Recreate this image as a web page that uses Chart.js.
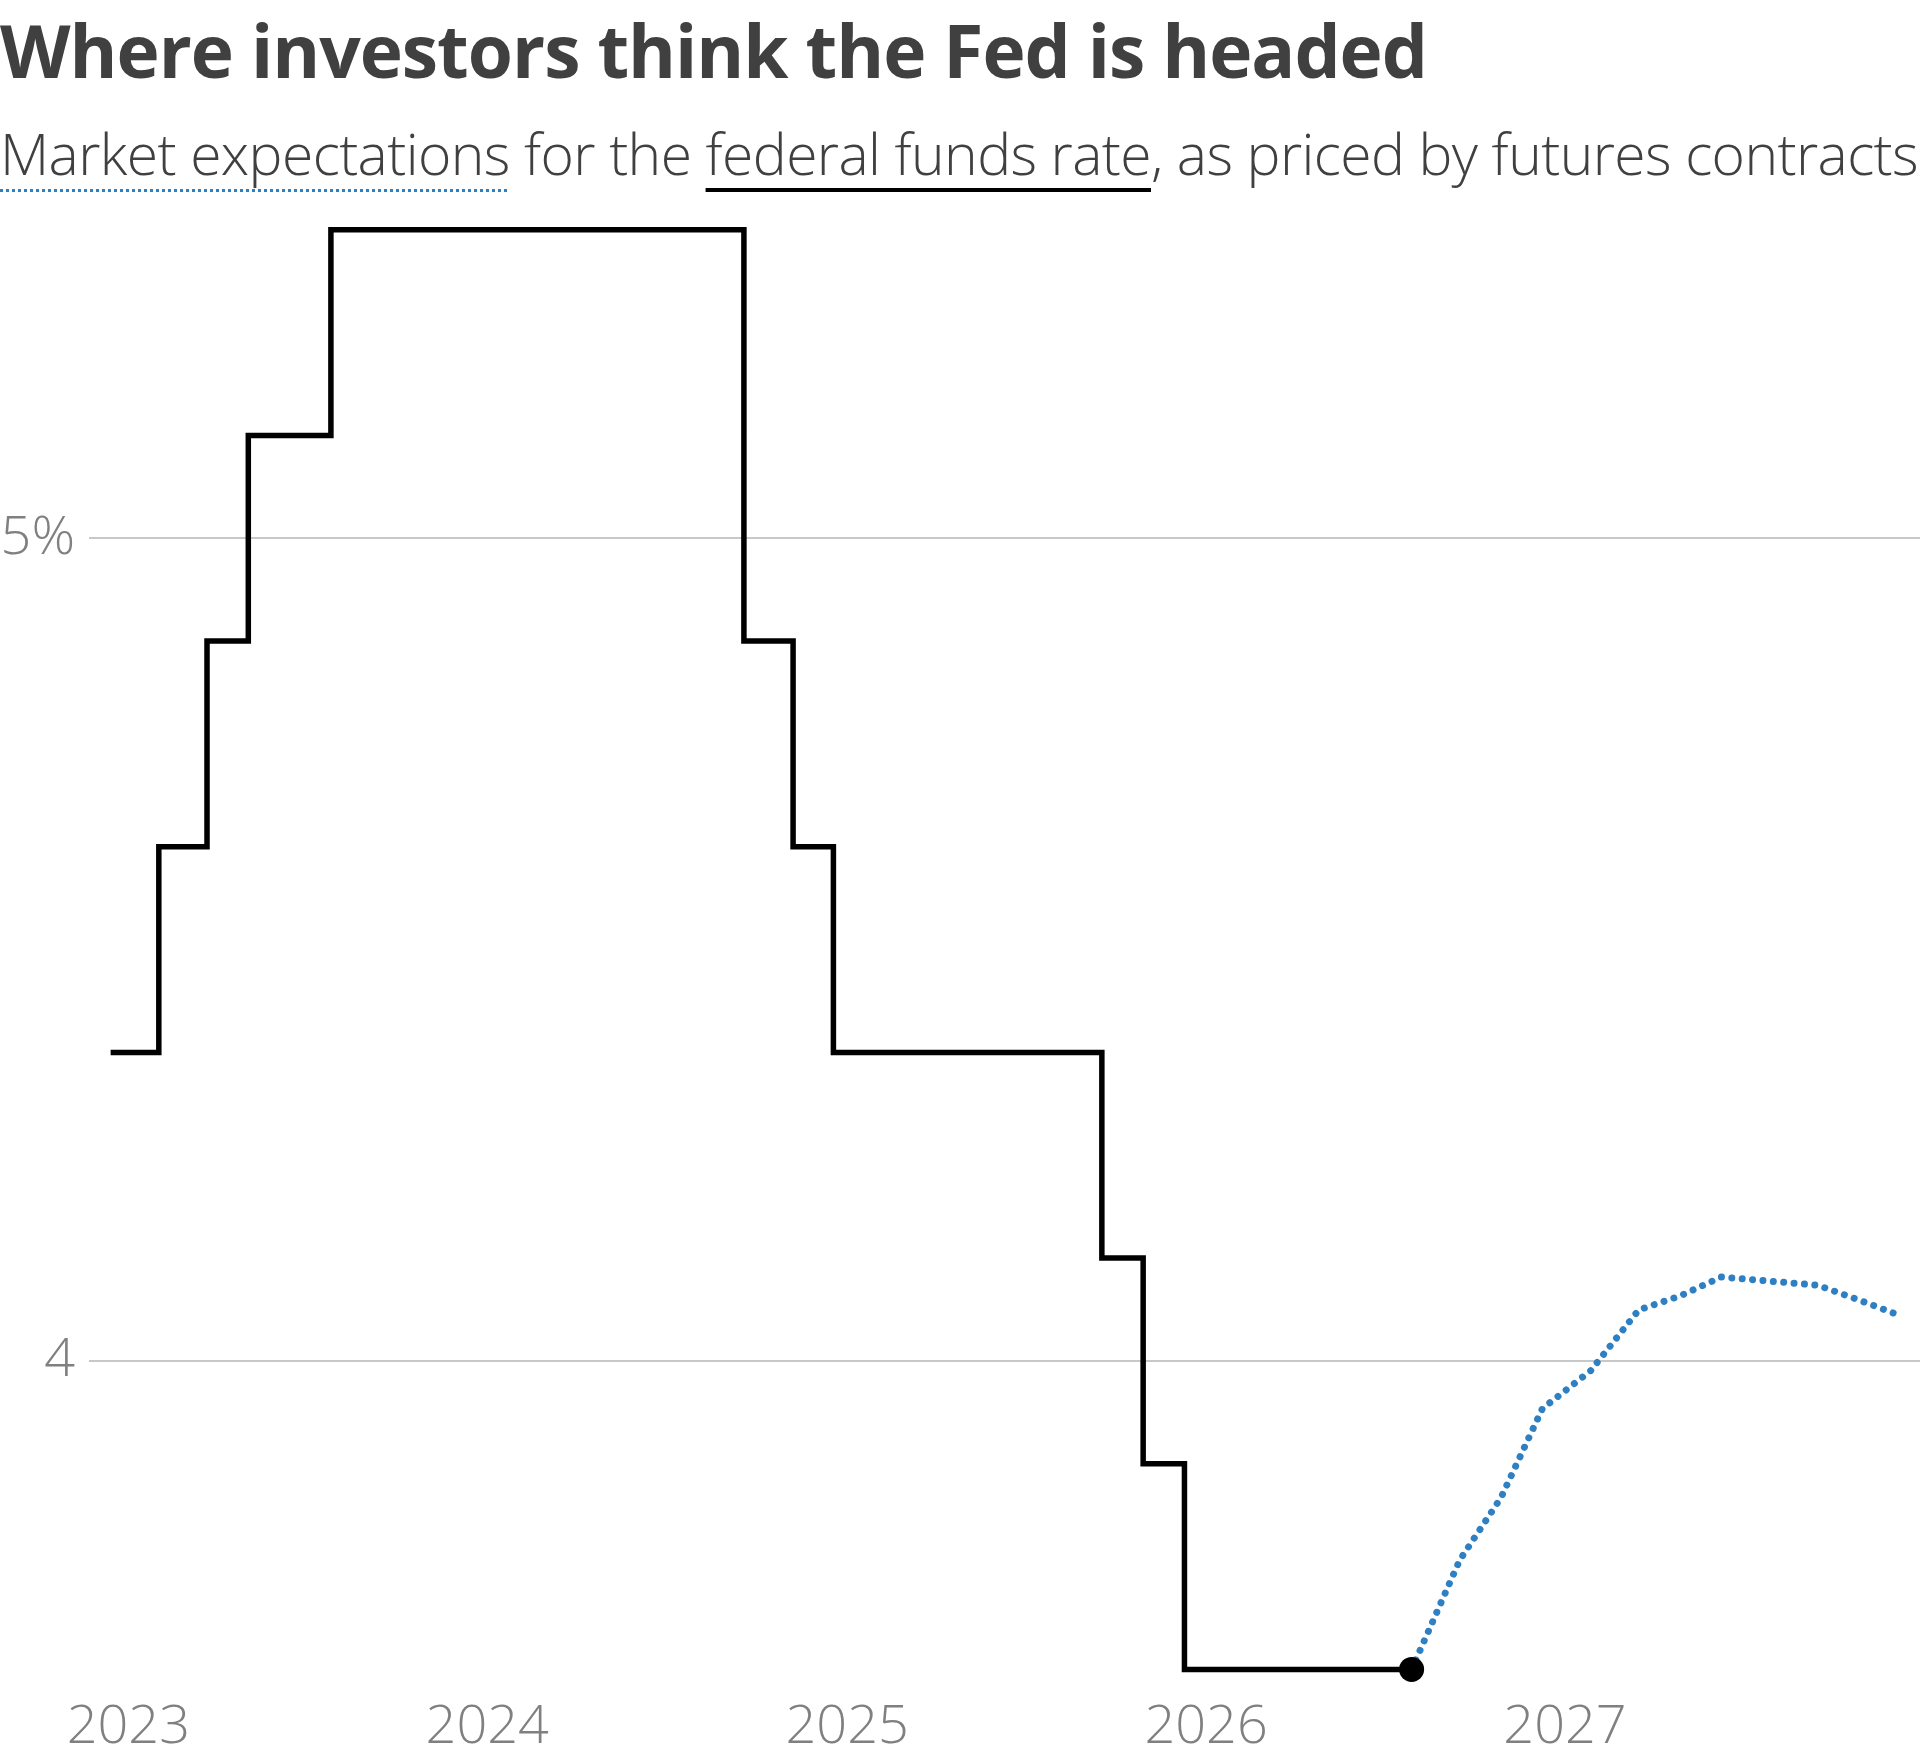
<!DOCTYPE html>
<html>
<head>
<meta charset="utf-8">
<script src="https://cdn.jsdelivr.net/npm/chart.js@4.4.1/dist/chart.umd.min.js"></script>
<style>
  html, body { margin: 0; padding: 0; background: #fff; }
  body { width: 1920px; height: 1747px; position: relative; overflow: hidden;
         font-family: "Open Sans", "Noto Sans", sans-serif; color: #404040; }
  #title { position: absolute; left: 0; top: 13px; font-size: 73px; line-height: 73px;
           font-weight: 700; font-stretch: 91%; letter-spacing: -1px; white-space: nowrap; z-index: 2; }
  #subtitle { position: absolute; left: 0; top: 125px; font-size: 57px; line-height: 57px;
              font-weight: 300; font-stretch: 97.5%; letter-spacing: -0.6px; white-space: nowrap; z-index: 2; }
  .dotted { text-decoration: underline dotted #2f80c2; text-decoration-thickness: 3px;
            text-underline-offset: 14px; }
  .solid { text-decoration: underline solid #000; text-decoration-thickness: 4px;
           text-underline-offset: 13px; }
  #wrap { position: absolute; left: 0; top: 0; width: 1920px; height: 1747px; z-index: 1; }
</style>
</head>
<body>
<div id="title">Where investors think the Fed is headed</div>
<div id="subtitle"><span class="dotted">Market expectations</span> for the <span class="solid">federal funds rate</span>, as priced by futures contracts</div>
<div id="wrap"><canvas id="chart"></canvas></div>
<script>
// fed funds target midpoint, at each FOMC decision
const rateDates = ['2022-12-14', '2023-02-01', '2023-03-22', '2023-05-03', '2023-07-26',
  '2024-09-18', '2024-11-07', '2024-12-18', '2025-09-17', '2025-10-29', '2025-12-10', '2026-07-29'];
const rateValues = [4.375, 4.625, 4.875, 5.125, 5.375, 4.875, 4.625, 4.375, 4.125, 3.875, 3.625, 3.625];

// futures-implied rate at upcoming meetings
const futuresDates = ['2026-07-29', '2026-09-16', '2026-10-28', '2026-12-09', '2027-01-27', '2027-03-17',
  '2027-04-28', '2027-06-09', '2027-07-28', '2027-09-15', '2027-10-27', '2027-12-08'];
const futuresValues = [3.625, 3.758, 3.834, 3.942, 3.988, 4.062, 4.079, 4.102, 4.097, 4.092, 4.074, 4.055];

const yearTicks = [2023, 2024, 2025, 2026, 2027];
const rateTicks = [4, 5];
const rateTickLabels = ['4', '5%'];

const toPoints = (dates, values) => dates.map((d, i) => ({ x: Date.parse(d), y: values[i] }));
const last = rateValues.length - 1;
const tickFont = { family: '"Open Sans", "Noto Sans", sans-serif', size: 54, weight: 300, lineHeight: 1 };

new Chart(document.getElementById('chart').getContext('2d'), {
  type: 'line',
  data: {
    datasets: [{
      data: toPoints(rateDates, rateValues),
      borderColor: '#000',
      borderWidth: 5.5,
      stepped: true,
      borderJoinStyle: 'miter',
      pointRadius: ctx => ctx.dataIndex === last ? 12.5 : 0,
      pointBackgroundColor: '#000',
      pointBorderWidth: 0,
      clip: false
    }, {
      data: toPoints(futuresDates, futuresValues),
      borderColor: '#2f80c2',
      borderWidth: 7,
      borderDash: [0.01, 10.4],
      borderCapStyle: 'round',
      tension: 0,
      pointRadius: 0,
      clip: false
    }]
  },
  options: {
    responsive: true,
    maintainAspectRatio: false,
    animation: false,
    devicePixelRatio: 1,
    layout: { autoPadding: false, padding: { top: 168, right: 0, bottom: 0, left: 0 } },
    plugins: { legend: { display: false }, tooltip: { enabled: false } },
    scales: {
      x: {
        type: 'linear',
        min: Date.UTC(2022, 10, 22),
        max: Date.UTC(2027, 11, 28),
        afterBuildTicks: s => { s.ticks = yearTicks.map(y => ({ value: Date.UTC(y, 0, 1) })); },
        afterFit: s => { s.height = 57; },
        grid: { display: false },
        border: { display: false },
        ticks: {
          callback: v => new Date(v).getUTCFullYear(),
          font: tickFont, color: '#808080', padding: 3,
          maxRotation: 0, autoSkip: false
        }
      },
      y: {
        min: 3.6,
        max: 5.45,
        afterBuildTicks: s => { s.ticks = rateTicks.map(v => ({ value: v })); },
        afterFit: s => { s.width = 89; },
        grid: { color: '#c8c8c8', lineWidth: 2, drawTicks: false },
        border: { display: false },
        ticks: {
          callback: v => rateTickLabels[rateTicks.indexOf(v)],
          font: tickFont, color: '#808080', padding: 14
        }
      }
    }
  }
});
</script>
</body>
</html>
